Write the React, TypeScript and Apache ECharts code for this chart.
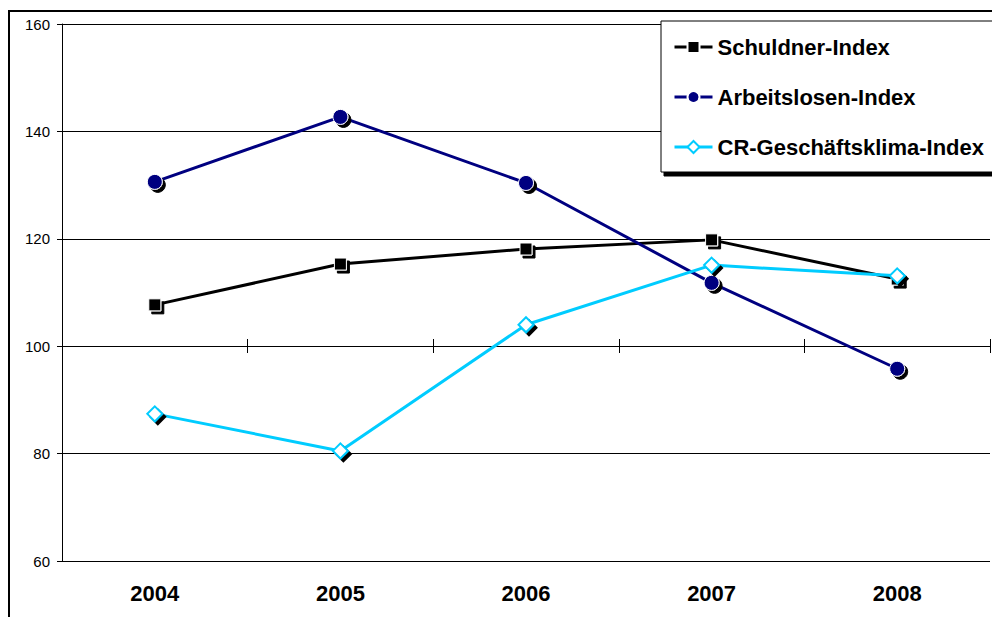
import React, { useEffect, useRef } from "react";
import * as echarts from "echarts";

const years = ["2004", "2005", "2006", "2007", "2008"];
const schuldner = [107.7, 115.3, 118.1, 119.8, 112.5];
const arbeitslosen = [130.6, 142.7, 130.4, 111.8, 95.8];
const geschaeftsklima = [87.4, 80.5, 104.0, 115.1, 113.1];
const seriesNames = ["Schuldner-Index", "Arbeitslosen-Index", "CR-Geschäftsklima-Index"];

const FONT = "'Liberation Sans', Arial, sans-serif";

export default function App() {
  const ref = useRef<HTMLDivElement>(null);
  useEffect(() => {
    if (!ref.current) return;
    const chart = echarts.init(ref.current, null, { renderer: "svg" });
    const shadow = { shadowColor: "#000", shadowOffsetX: 3, shadowOffsetY: 3, shadowBlur: 0 };
    chart.setOption({
      animation: false,
      backgroundColor: "#fff",
      textStyle: { fontFamily: FONT },
      graphic: [
        {
          type: "rect",
          shape: { x: 9, y: 11, width: 1100, height: 800 },
          style: { fill: "none", stroke: "#000", lineWidth: 2 },
          z: -1,
          silent: true,
        },
      ],
      grid: [
        { left: 62, right: 2, top: 24, bottom: 56 },
        { left: 62, right: 2, top: 346, height: 0 },
      ],
      legend: {
        orient: "vertical",
        left: 661,
        top: 21,
        padding: [14, 30, 13, 12],
        itemWidth: 38,
        itemHeight: 15,
        itemGap: 26,
        backgroundColor: "#fff",
        borderColor: "#000",
        borderWidth: 1,
        shadowColor: "#000",
        shadowOffsetX: 3,
        shadowOffsetY: 4,
        shadowBlur: 0,
        lineStyle: { width: 3 },
        itemStyle: { shadowColor: "rgba(0,0,0,0)", shadowOffsetX: 0, shadowOffsetY: 0 },
        textStyle: { fontFamily: FONT, fontSize: 22, fontWeight: "bold", color: "#000", lineHeight: 24 },
        data: seriesNames,
      },
      xAxis: [
        {
          type: "category",
          data: years,
          gridIndex: 0,
          boundaryGap: true,
          axisLine: { show: false },
          axisTick: { show: false },
          axisLabel: { fontFamily: FONT, fontSize: 22, fontWeight: "bold", color: "#000", margin: 21 },
          splitLine: { show: false },
        },
        {
          type: "category",
          data: years,
          gridIndex: 1,
          position: "top",
          boundaryGap: true,
          axisLine: { show: true, lineStyle: { color: "#000", width: 1 } },
          axisTick: { show: true, length: 7, lineStyle: { color: "#000", width: 1 } },
          axisLabel: { show: false },
        },
        {
          type: "category",
          data: years,
          gridIndex: 1,
          position: "bottom",
          boundaryGap: true,
          axisLine: { show: false },
          axisTick: { show: true, length: 7, lineStyle: { color: "#000", width: 1 } },
          axisLabel: { show: false },
        },
      ],
      yAxis: [
        {
          type: "value",
          gridIndex: 0,
          min: 60,
          max: 160,
          interval: 20,
          axisLine: { show: true, lineStyle: { color: "#000", width: 1 } },
          axisTick: { show: true, length: 5, lineStyle: { color: "#000" } },
          axisLabel: { fontFamily: FONT, fontSize: 15, color: "#000", margin: 12 },
          splitLine: { show: true, lineStyle: { color: "#000", width: 1 } },
        },
        { type: "value", gridIndex: 1, show: false },
      ],
      series: [
        {
          name: seriesNames[0],
          type: "line",
          data: schuldner,
          symbol: "rect",
          symbolSize: 12,
          lineStyle: { color: "#000", width: 3 },
          itemStyle: { color: "#000", borderColor: "#fff", borderWidth: 1, ...shadow },
        },
        {
          name: seriesNames[1],
          type: "line",
          data: arbeitslosen,
          symbol: "circle",
          symbolSize: 15,
          lineStyle: { color: "#000080", width: 3 },
          itemStyle: { color: "#000080", borderColor: "#fff", borderWidth: 1, ...shadow },
        },
        {
          name: seriesNames[2],
          type: "line",
          data: geschaeftsklima,
          symbol: "diamond",
          symbolSize: 15,
          lineStyle: { color: "#00CCFF", width: 3 },
          itemStyle: { color: "#fff", borderColor: "#00CCFF", borderWidth: 2, ...shadow },
        },
      ],
    });
    return () => chart.dispose();
  }, []);
  return (
    <div
      ref={ref}
      style={{ position: "absolute", left: 0, top: 0, width: 992, height: 617 }}
    />
  );
}
